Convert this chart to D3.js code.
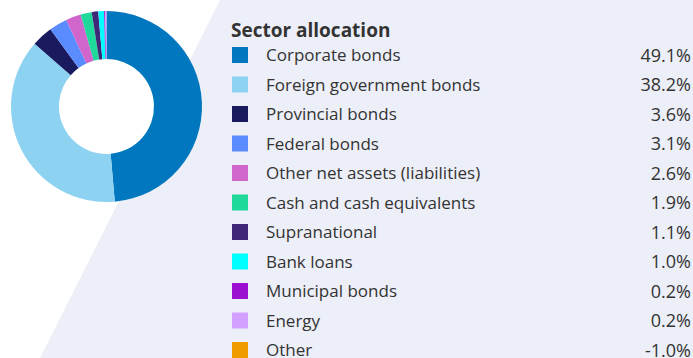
<!DOCTYPE html>
<html>
<head>
<meta charset="utf-8">
<script src="https://cdn.jsdelivr.net/npm/d3@7/dist/d3.min.js"></script>
<style>
  html, body { margin: 0; padding: 0; background: #ffffff; }
  svg { display: block; }
  text { font-family: "Open Sans", "Lato", sans-serif; fill: #333333; }
</style>
</head>
<body>
<svg id="chart" width="693" height="358"></svg>
<script>
// Sector allocation of the portfolio, in percent
const sectors = [
  "Corporate bonds",
  "Foreign government bonds",
  "Provincial bonds",
  "Federal bonds",
  "Other net assets (liabilities)",
  "Cash and cash equivalents",
  "Supranational",
  "Bank loans",
  "Municipal bonds",
  "Energy",
  "Other"
];
const weights = [49.1, 38.2, 3.6, 3.1, 2.6, 1.9, 1.1, 1.0, 0.2, 0.2, -1.0];
const colors = [
  "#0077be", "#8ed2f2", "#1a1a5e", "#5b8cff", "#d065cc", "#1fd99a",
  "#3f2878", "#00ffff", "#9b0fd0", "#d4a0ff", "#f09b00"
];
const title = "Sector allocation";

const svg = d3.select("#chart");
const W = 693, H = 358;

// light panel behind the legend, with a slanted left edge
svg.append("path")
  .attr("d", d3.line()([[220, 0], [W, 0], [W, H], [40, H]]) + "Z")
  .attr("fill", "#edeff8");

// donut (negative weights are listed in the legend only)
const rows = sectors.map((s, i) => ({ name: s, value: weights[i], color: colors[i] }));
const pie = d3.pie().sort(null).value(d => Math.max(0, d.value));
const arc = d3.arc().innerRadius(47.5).outerRadius(95.5);

svg.append("g")
  .attr("transform", "translate(106.5,106.5)")
  .selectAll("path")
  .data(pie(rows).filter(d => d.data.value > 0))
  .join("path")
  .attr("d", arc)
  .attr("fill", d => d.data.color);

// legend
const legend = svg.append("g");
legend.append("text")
  .attr("x", 231).attr("y", 37)
  .attr("font-size", 19).attr("font-weight", 700)
  .text(title);

const y = d3.scalePoint().domain(sectors).range([54.5, 349.5]);

const item = legend.selectAll("g.item")
  .data(rows)
  .join("g")
  .attr("class", "item")
  .attr("transform", d => `translate(0,${y(d.name)})`);

item.append("rect")
  .attr("x", 232).attr("y", -7.5)
  .attr("width", 16).attr("height", 16)
  .attr("fill", d => d.color);

item.append("text")
  .attr("x", 266).attr("y", 6.5)
  .attr("font-size", 17)
  .text(d => d.name);

const fmt = d3.formatLocale({ decimal: ".", thousands: ",", grouping: [3], currency: ["", ""], minus: "-" }).format(".1f");
item.append("text")
  .attr("x", 691).attr("y", 7)
  .attr("font-size", 18)
  .attr("text-anchor", "end")
  .text(d => fmt(d.value) + "%");
</script>
</body>
</html>
